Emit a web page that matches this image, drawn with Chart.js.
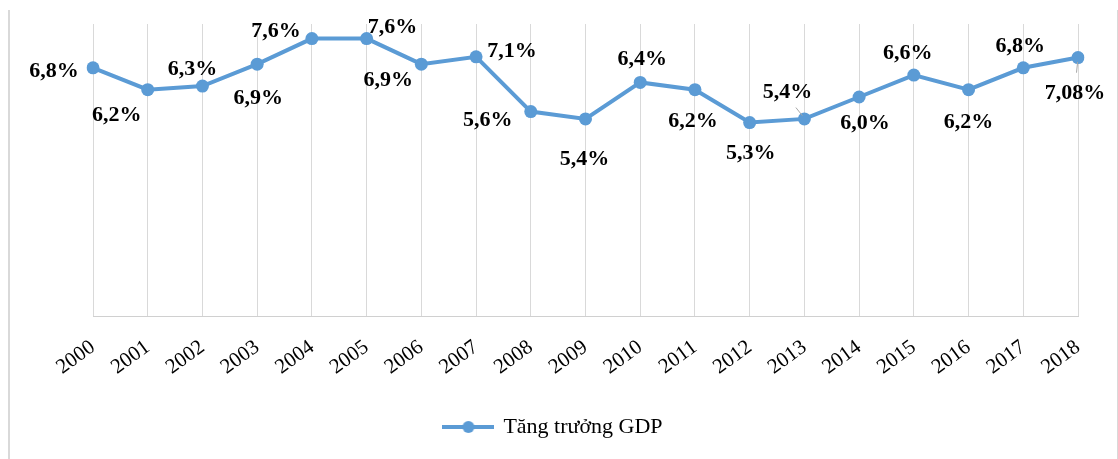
<!DOCTYPE html>
<html lang="vi">
<head>
    <meta charset="UTF-8">
    <title>Tăng trưởng GDP</title>
    <script src="https://cdn.jsdelivr.net/npm/chart.js@4"></script>
    <style>
        html, body {
            margin: 0;
            padding: 0;
            background: #fff;
        }
        .wrap {
            position: relative;
            width: 1118px;
            height: 459px;
            overflow: hidden;
        }
        .frame {
            position: absolute;
            left: 8px;
            top: 10px;
            width: 1107px;
            height: 460px;
            border-left: 2px solid #d9d9d9;
            border-right: 2px solid #d9d9d9;
        }
        canvas {
            position: absolute;
            left: 0;
            top: 0;
        }
    </style>
</head>
<body>
    <div class="wrap">
        <div class="frame"></div>
        <canvas id="gdpChart" width="1118" height="459"></canvas>
    </div>

    <script>
        // số liệu
        const years = ['2000', '2001', '2002', '2003', '2004', '2005', '2006', '2007', '2008', '2009',
                       '2010', '2011', '2012', '2013', '2014', '2015', '2016', '2017', '2018'];
        const growth = [6.8, 6.2, 6.3, 6.9, 7.6, 7.6, 6.9, 7.1, 5.6, 5.4,
                        6.4, 6.2, 5.3, 5.4, 6.0, 6.6, 6.2, 6.8, 7.08];
        const seriesName = 'Tăng trưởng GDP';

        // vị trí nhãn dữ liệu so với điểm (px), và các nhãn có đường dẫn
        const labelOffsets = [[-39, 4], [-31, 26], [-10, -17], [1, 34], [-36, -7], [26, -11], [-33, 16],
                              [36, -6], [-43, 9], [-1, 40], [2, -23], [-2, 32], [1, 31], [-17, -27],
                              [6, 26], [-6, -22], [0, 33], [-3, -21], [-3, 36]];
        const leaderLines = [13, 18];

        const blue = '#5B9BD5';
        const serif = '"Liberation Serif", "Times New Roman", serif';

        const fmt = (v) => {
            const s = Math.round(v * 10) === v * 10 ? v.toFixed(1) : v.toFixed(2);
            return s.replace('.', ',') + '%';
        };

        // ký hiệu chú giải: đường + chấm tròn
        const marker = document.createElement('canvas');
        marker.width = 52;
        marker.height = 14;
        const mctx = marker.getContext('2d');
        mctx.strokeStyle = blue;
        mctx.lineWidth = 4;
        mctx.beginPath();
        mctx.moveTo(0, 7);
        mctx.lineTo(52, 7);
        mctx.stroke();
        mctx.fillStyle = blue;
        mctx.beginPath();
        mctx.arc(26, 7, 6, 0, Math.PI * 2);
        mctx.fill();

        const dataLabels = {
            id: 'dataLabels',
            afterDatasetsDraw(chart) {
                const ctx = chart.ctx;
                const meta = chart.getDatasetMeta(0);
                ctx.save();
                meta.data.forEach((pt, i) => {
                    const [dx, dy] = labelOffsets[i];
                    if (leaderLines.includes(i)) {
                        ctx.strokeStyle = '#a6a6a6';
                        ctx.lineWidth = 1;
                        ctx.beginPath();
                        ctx.moveTo(pt.x + dx * 0.12, pt.y + dy * 0.12);
                        ctx.lineTo(pt.x + dx * 0.5, pt.y + dy * 0.42);
                        ctx.stroke();
                    }
                    ctx.font = 'bold 22px ' + serif;
                    ctx.fillStyle = '#000';
                    ctx.textAlign = 'center';
                    ctx.textBaseline = 'middle';
                    ctx.fillText(fmt(growth[i]), pt.x + dx, pt.y + dy);
                });
                ctx.restore();
            }
        };

        // dời chú giải sang trái cho giống hình gốc
        const shiftLegend = {
            id: 'shiftLegend',
            afterLayout(chart) {
                chart.legend.left -= 32;
                chart.legend.right -= 32;
            }
        };

        const chart = new Chart(document.getElementById('gdpChart'), {
            type: 'line',
            data: {
                labels: years,
                datasets: [{
                    label: seriesName,
                    data: growth,
                    borderColor: blue,
                    backgroundColor: blue,
                    borderWidth: 4,
                    pointRadius: 6.5,
                    pointHoverRadius: 6.5,
                    pointBackgroundColor: blue,
                    pointBorderWidth: 0,
                    tension: 0,
                    fill: false
                }]
            },
            options: {
                responsive: false,
                animation: false,
                devicePixelRatio: 1,
                layout: {
                    padding: { left: 93, right: 40, top: 24, bottom: 11 }
                },
                plugins: {
                    legend: {
                        position: 'bottom',
                        labels: {
                            usePointStyle: true,
                            pointStyle: marker,
                            pointStyleWidth: 48,
                            color: '#000',
                            font: { family: serif, size: 22 },
                            padding: 10
                        }
                    },
                    tooltip: { enabled: false }
                },
                scales: {
                    x: {
                        offset: false,
                        grid: {
                            display: true,
                            color: '#d9d9d9',
                            lineWidth: 1,
                            drawTicks: false
                        },
                        border: { display: true, color: '#d0d0d0', width: 1 },
                        ticks: {
                            autoSkip: false,
                            minRotation: 36,
                            maxRotation: 36,
                            padding: 19,
                            color: '#000',
                            font: { family: serif, size: 21 }
                        },
                        afterFit(scale) {
                            scale.height = 90;
                        }
                    },
                    y: {
                        display: false,
                        min: 0,
                        max: 8
                    }
                }
            },
            plugins: [dataLabels, shiftLegend]
        });
    </script>
</body>
</html>
